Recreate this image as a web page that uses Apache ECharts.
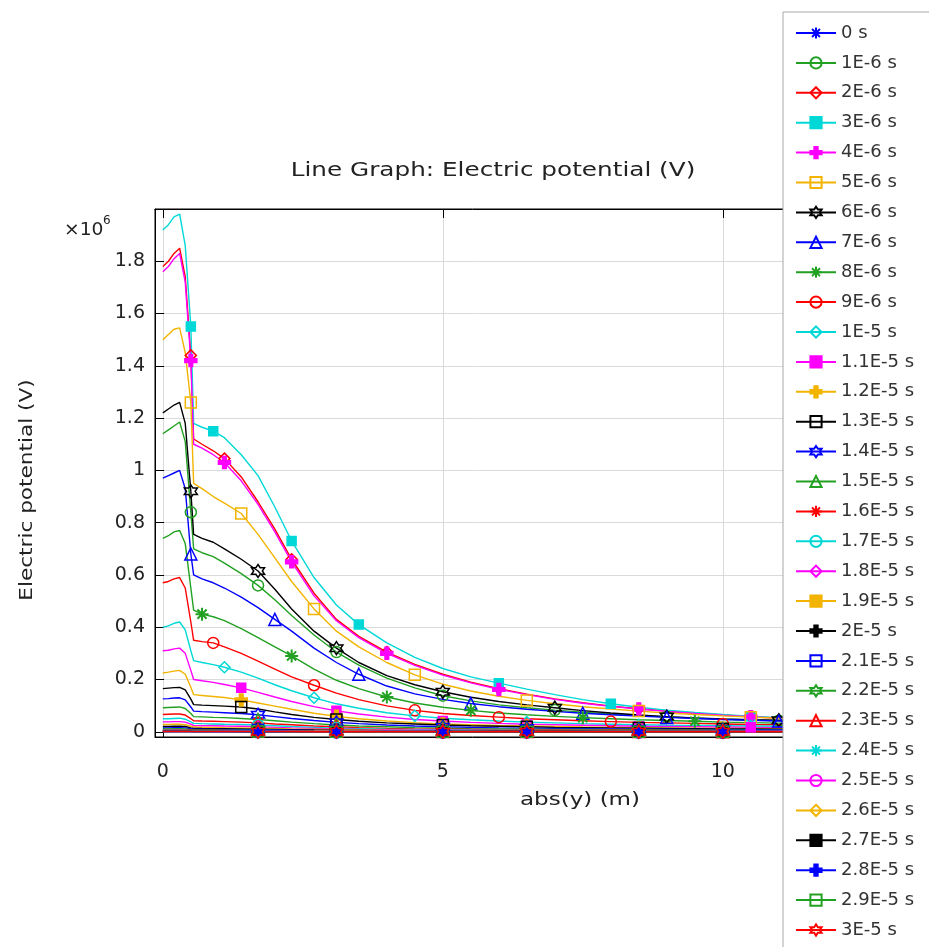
<!DOCTYPE html>
<html><head><meta charset="utf-8">
<script src="https://cdn.jsdelivr.net/npm/echarts@6/dist/echarts.min.js"></script>
<style>html,body{margin:0;padding:0;background:#fff}#c{width:929px;height:947px}</style>
</head><body><div id="c"></div>
<script>
// abs(y) sample positions (m)
const xGrid = [0, 0.1, 0.2, 0.3, 0.4, 0.5, 0.55, 0.7, 0.9,
  1.1, 1.4, 1.7, 2.0, 2.3, 2.7, 3.1, 3.5,
  4.0, 4.5, 5.0, 5.5, 6.0, 6.5, 7.0, 7.5,
  8.0, 8.5, 9.0, 9.5, 10.0, 10.5, 11.0, 11.2];

const timeLabels = ['0 s','1E-6 s','2E-6 s','3E-6 s','4E-6 s','5E-6 s','6E-6 s','7E-6 s','8E-6 s','9E-6 s',
  '1E-5 s','1.1E-5 s','1.2E-5 s','1.3E-5 s','1.4E-5 s','1.5E-5 s','1.6E-5 s','1.7E-5 s','1.8E-5 s','1.9E-5 s',
  '2E-5 s','2.1E-5 s','2.2E-5 s','2.3E-5 s','2.4E-5 s','2.5E-5 s','2.6E-5 s','2.7E-5 s','2.8E-5 s','2.9E-5 s','3E-5 s'];

// Electric potential values, in units of 1e6 V
const s0 = [0,0,0,0,0,0,0,0,0, 0,0,0,0,0,0,0,0, 0,0,0,0,0,0,0,0, 0,0,0,0,0,0,0,0];
const s1 = [1.14,1.155,1.17,1.185,1.11,0.84,0.70,0.685,0.67, 0.645,0.605,0.56,0.505,0.445,0.37,0.305,0.255, 0.205,0.168,0.138,0.118,0.103,0.092,0.083,0.075, 0.068,0.062,0.057,0.052,0.048,0.045,0.042,0.041];
const s2 = [1.78,1.80,1.83,1.85,1.74,1.44,1.12,1.10,1.075, 1.045,0.975,0.88,0.775,0.66,0.53,0.43,0.365, 0.305,0.258,0.22,0.19,0.165,0.144,0.126,0.111, 0.098,0.088,0.079,0.071,0.064,0.058,0.053,0.051];
const s3 = [1.92,1.94,1.97,1.98,1.86,1.55,1.18,1.165,1.15, 1.125,1.06,0.98,0.86,0.73,0.59,0.485,0.41, 0.34,0.285,0.242,0.21,0.186,0.163,0.142,0.123, 0.107,0.094,0.083,0.074,0.066,0.059,0.054,0.052];
const s4 = [1.76,1.78,1.81,1.83,1.72,1.42,1.10,1.085,1.06, 1.03,0.96,0.87,0.765,0.65,0.52,0.425,0.36, 0.30,0.254,0.217,0.187,0.162,0.142,0.124,0.109, 0.097,0.087,0.078,0.07,0.063,0.057,0.052,0.05];
const s5 = [1.50,1.52,1.54,1.545,1.45,1.26,0.95,0.93,0.90, 0.875,0.835,0.755,0.665,0.575,0.47,0.385,0.325, 0.265,0.218,0.182,0.156,0.136,0.12,0.107,0.096, 0.087,0.079,0.072,0.066,0.061,0.056,0.052,0.05];
const s6 = [1.22,1.235,1.25,1.26,1.18,0.92,0.755,0.74,0.725, 0.70,0.66,0.615,0.545,0.47,0.385,0.32,0.265, 0.215,0.18,0.153,0.132,0.116,0.103,0.092,0.081, 0.072,0.064,0.058,0.053,0.049,0.046,0.044,0.043];
const s7 = [0.97,0.98,0.99,1.0,0.93,0.68,0.60,0.585,0.57, 0.55,0.515,0.475,0.43,0.385,0.32,0.265,0.22, 0.175,0.145,0.124,0.108,0.096,0.086,0.078,0.071, 0.065,0.06,0.055,0.051,0.047,0.044,0.041,0.04];
const s8 = [0.74,0.75,0.765,0.77,0.72,0.55,0.465,0.45,0.44, 0.425,0.395,0.36,0.325,0.29,0.24,0.197,0.165, 0.133,0.11,0.094,0.082,0.072,0.065,0.059,0.054, 0.05,0.046,0.043,0.04,0.037,0.035,0.033,0.032];
const s9 = [0.57,0.575,0.585,0.59,0.55,0.42,0.35,0.345,0.34, 0.325,0.30,0.27,0.24,0.21,0.178,0.148,0.123, 0.099,0.082,0.07,0.062,0.056,0.05,0.046,0.042, 0.039,0.036,0.034,0.032,0.03,0.028,0.027,0.026];
const s10 = [0.40,0.405,0.415,0.42,0.39,0.31,0.272,0.265,0.257, 0.247,0.228,0.205,0.18,0.157,0.13,0.107,0.09, 0.073,0.061,0.052,0.046,0.041,0.037,0.034,0.031, 0.029,0.027,0.025,0.024,0.023,0.022,0.021,0.02];
const s11 = [0.31,0.312,0.317,0.32,0.30,0.235,0.20,0.195,0.189, 0.181,0.168,0.151,0.133,0.116,0.096,0.08,0.068, 0.056,0.047,0.041,0.036,0.032,0.029,0.027,0.025, 0.023,0.021,0.02,0.019,0.018,0.017,0.016,0.016];
const s12 = [0.225,0.228,0.232,0.235,0.22,0.17,0.142,0.139,0.135, 0.131,0.122,0.11,0.098,0.086,0.071,0.059,0.05, 0.041,0.035,0.03,0.027,0.024,0.022,0.02,0.018, 0.017,0.016,0.015,0.014,0.013,0.013,0.012,0.012];
const s13 = [0.165,0.167,0.169,0.17,0.16,0.125,0.104,0.102,0.10, 0.098,0.095,0.087,0.076,0.066,0.055,0.047,0.04, 0.034,0.03,0.026,0.023,0.021,0.019,0.017,0.016, 0.015,0.014,0.013,0.012,0.011,0.011,0.01,0.01];
const s14 = [0.126,0.127,0.129,0.13,0.122,0.095,0.079,0.077,0.075, 0.073,0.07,0.065,0.058,0.051,0.043,0.036,0.031, 0.026,0.022,0.019,0.017,0.015,0.014,0.013,0.012, 0.011,0.01,0.0095,0.009,0.0085,0.008,0.0075,0.0075];
const s15 = [0.092,0.093,0.094,0.095,0.089,0.07,0.058,0.057,0.055, 0.054,0.051,0.047,0.042,0.037,0.031,0.026,0.022, 0.019,0.016,0.014,0.012,0.011,0.01,0.0093,0.0086, 0.008,0.0075,0.007,0.0066,0.0062,0.0058,0.0055,0.0054];
const s16 = [0.066,0.067,0.068,0.068,0.064,0.05,0.042,0.041,0.04, 0.039,0.037,0.034,0.03,0.027,0.022,0.019,0.016, 0.013,0.011,0.01,0.0088,0.0079,0.0072,0.0066,0.0061, 0.0057,0.0053,0.005,0.0047,0.0044,0.0042,0.004,0.0039];
const s17 = [0.05,0.05,0.051,0.052,0.048,0.038,0.032,0.031,0.03, 0.029,0.028,0.026,0.023,0.02,0.017,0.014,0.012, 0.01,0.0085,0.0074,0.0066,0.006,0.0054,0.005,0.0046, 0.0043,0.004,0.0038,0.0035,0.0033,0.0032,0.003,0.003];
const s18 = [0.038,0.038,0.039,0.039,0.037,0.029,0.024,0.023,0.023, 0.022,0.021,0.019,0.017,0.015,0.013,0.011,0.0092, 0.0075,0.0064,0.0056,0.005,0.0045,0.0041,0.0038,0.0035, 0.0033,0.003,0.0028,0.0027,0.0025,0.0024,0.0023,0.0022];
const s19 = [0.028,0.028,0.029,0.029,0.027,0.021,0.018,0.017,0.017, 0.016,0.015,0.014,0.013,0.011,0.0095,0.008,0.0068, 0.0055,0.0047,0.0041,0.0037,0.0033,0.003,0.0028,0.0026, 0.0024,0.0022,0.0021,0.002,0.0019,0.0018,0.0017,0.0016];
const s20 = [0.02,0.02,0.021,0.021,0.02,0.015,0.013,0.0125,0.012, 0.0118,0.011,0.01,0.009,0.008,0.0068,0.0057,0.0048, 0.004,0.0034,0.003,0.0026,0.0024,0.0022,0.002,0.0018, 0.0017,0.0016,0.0015,0.0014,0.0013,0.0013,0.0012,0.0012];
const s21 = [0.015,0.015,0.0155,0.0158,0.0148,0.0115,0.0096,0.0094,0.0091, 0.0088,0.0083,0.0076,0.0068,0.006,0.0051,0.0043,0.0036, 0.003,0.0025,0.0022,0.002,0.0018,0.0016,0.0015,0.0014, 0.0013,0.0012,0.0011,0.0011,0.001,0.001,0.0009,0.0009];
const s22 = [0.011,0.011,0.0113,0.0115,0.0108,0.0084,0.007,0.0068,0.0066, 0.0064,0.006,0.0055,0.005,0.0044,0.0037,0.0031,0.0026, 0.0022,0.0019,0.0016,0.0014,0.0013,0.0012,0.0011,0.001, 0.0009,0.0009,0.0008,0.0008,0.0007,0.0007,0.0007,0.0006];
const s23 = [0.008,0.008,0.0082,0.0083,0.0078,0.006,0.005,0.0049,0.0048, 0.0046,0.0043,0.004,0.0036,0.0032,0.0027,0.0022,0.0019, 0.0016,0.0013,0.0012,0.001,0.0009,0.0008,0.0008,0.0007, 0.0007,0.0006,0.0006,0.0006,0.0005,0.0005,0.0005,0.0005];
const s24 = [0.006,0.006,0.0061,0.0062,0.0058,0.0045,0.0038,0.0037,0.0036, 0.0035,0.0032,0.003,0.0027,0.0024,0.002,0.0017,0.0014, 0.0012,0.001,0.0009,0.0008,0.0007,0.0006,0.0006,0.0005, 0.0005,0.0005,0.0004,0.0004,0.0004,0.0004,0.0004,0.0004];
const s25 = [0.0045,0.0045,0.0046,0.0046,0.0043,0.0034,0.0028,0.0028,0.0027, 0.0026,0.0024,0.0022,0.002,0.0018,0.0015,0.0013,0.0011, 0.0009,0.0008,0.0007,0.0006,0.0005,0.0005,0.0004,0.0004, 0.0004,0.0003,0.0003,0.0003,0.0003,0.0003,0.0003,0.0003];
const s26 = [0.0033,0.0033,0.0034,0.0034,0.0032,0.0025,0.0021,0.002,0.002, 0.0019,0.0018,0.0016,0.0015,0.0013,0.0011,0.0009,0.0008, 0.0007,0.0006,0.0005,0.0004,0.0004,0.0004,0.0003,0.0003, 0.0003,0.0003,0.0002,0.0002,0.0002,0.0002,0.0002,0.0002];
const s27 = [0.0024,0.0024,0.0025,0.0025,0.0023,0.0018,0.0015,0.0015,0.0014, 0.0014,0.0013,0.0012,0.0011,0.001,0.0008,0.0007,0.0006, 0.0005,0.0004,0.0004,0.0003,0.0003,0.0003,0.0002,0.0002, 0.0002,0.0002,0.0002,0.0002,0.0001,0.0001,0.0001,0.0001];
const s28 = [0.0018,0.0018,0.0018,0.0019,0.0017,0.0014,0.0011,0.0011,0.0011, 0.001,0.001,0.0009,0.0008,0.0007,0.0006,0.0005,0.0004, 0.0004,0.0003,0.0003,0.0002,0.0002,0.0002,0.0002,0.0002, 0.0001,0.0001,0.0001,0.0001,0.0001,0.0001,0.0001,0.0001];
const s29 = [0.0013,0.0013,0.0013,0.0014,0.0013,0.001,0.0008,0.0008,0.0008, 0.0007,0.0007,0.0006,0.0006,0.0005,0.0004,0.0004,0.0003, 0.0003,0.0002,0.0002,0.0002,0.0002,0.0001,0.0001,0.0001, 0.0001,0.0001,0.0001,0.0001,0.0001,0.0001,0.0001,0.0001];
const s30 = [0.001,0.001,0.001,0.001,0.001,0.0007,0.0006,0.0006,0.0006, 0.0005,0.0005,0.0005,0.0004,0.0004,0.0003,0.0003,0.0002, 0.0002,0.0002,0.0002,0.0001,0.0001,0.0001,0.0001,0.0001, 0.0001,0.0001,0.0001,0.0001,0.0001,0.0001,0.0001,0.0001];

const seriesValues = [s0,s1,s2,s3,s4,s5,s6,s7,s8,s9,s10,s11,s12,s13,s14,s15,s16,s17,s18,s19,s20,s21,s22,s23,s24,s25,s26,s27,s28,s29,s30];

// indices into xGrid where a marker is drawn
const mFlat = [11,15,19,22,26,29];
const m1 = [5,11,15,19,23,27,31];
const m2 = [5,9,13,17,21,26,30];
const m3 = [5,8,13,16,21,25,30];
const m4 = [5,9,13,17,21,26,30];
const m5 = [5,10,14,18,22,26,30];
const m6 = [5,11,15,19,23,27,31];
const m7 = [5,12,16,20,24,27,31];
const m8 = [7,13,17,20,24,28];
const m9 = [8,14,18,21,25,29];
const m10 = [9,14,18,22,26,30];
const m11 = [10,15,19,22,26,30];
const m12 = [10,15,19,22,26,29];
const m13 = [10,15,19,22,26,29];
const markerIndices = [mFlat,m1,m2,m3,m4,m5,m6,m7,m8,m9,m10,m11,m12,m13,
  mFlat,mFlat,mFlat,mFlat,mFlat,mFlat,mFlat,mFlat,mFlat,mFlat,mFlat,mFlat,mFlat,mFlat,mFlat,mFlat,mFlat];

const yTicksShown = [0,0.2,0.4,0.6,0.8,1,1.2,1.4,1.6,1.8];
const xTicksShown = [0,5,10];

// styles
const palette = ['#0000ff','#22a022','#ff0000','#00d8d8','#ff00ff','#f2b400','#000000'];
const ASTERISK = 'path://M0,-10L0,10M-10,0L10,0M-7.07,-7.07L7.07,7.07M-7.07,7.07L7.07,-7.07';
const STAR = 'path://M0,-10L2.885,-5L8.66,-5L5.77,0L8.66,5L2.885,5L0,10L-2.885,5L-8.66,5L-5.77,0L-8.66,-5L-2.885,-5Z';
const PLUS = 'path://M-3,-10L3,-10L3,-3L10,-3L10,3L3,3L3,10L-3,10L-3,3L-10,3L-10,-3L-3,-3Z';
const symbolCycle = [ASTERISK,'circle','diamond','rect',PLUS,'rect',STAR,'triangle'];
const fillCycle   = ['line','open','open','fill','fill','open','open','open'];
const sizeCycle   = [13,11,11,9,12,11,13,12];

const series = seriesValues.map((vals, k) => {
  const color = palette[k % 7];
  const si = k % 8;
  const marks = markerIndices[k];
  const data = xGrid.map((x, i) => marks.indexOf(i) >= 0 ? {value:[x, vals[i]]} : {value:[x, vals[i]], symbol:'none'});
  const f = fillCycle[si];
  return {
    type: 'line', name: timeLabels[k], data: data,
    symbol: symbolCycle[si], symbolSize: sizeCycle[si],
    showSymbol: true, showAllSymbol: true,
    lineStyle: {color: color, width: 1.4},
    itemStyle: {color: f === 'fill' ? color : 'rgba(255,255,255,0)', borderColor: color, borderWidth: f === 'line' ? 2 : 1.5},
    emphasis: {disabled: true}, animation: false, z: 2
  };
});

const FONT = '"DejaVu Sans", Verdana, sans-serif';
const chart = echarts.init(document.getElementById('c'));
chart.setOption({
  backgroundColor: '#fff',
  animation: false,
  grid: {left: 155, top: 209, right: 139, bottom: 210, show: true, borderColor: '#000', borderWidth: 1, backgroundColor: '#fff', containLabel: false},
  xAxis: [{
    type: 'value', min: -0.14, max: 11.2, minInterval: 5, maxInterval: 5,
    axisLine: {show: true, onZero: false, lineStyle: {color: '#000', width: 1}},
    axisTick: {show: true, inside: true, length: 9, lineStyle: {color: '#000'}},
    axisLabel: {margin: 26, fontSize: 19, color: '#222', fontFamily: FONT,
      formatter: v => { const t = xTicksShown.find(a => Math.abs(a - v) < 1e-6); return t === undefined ? '' : String(t); }},
    splitLine: {show: true, lineStyle: {color: '#dadada', width: 1}}
  }, {
    type: 'value', position: 'top', min: -0.14, max: 11.2, minInterval: 5, maxInterval: 5,
    axisLine: {show: true, onZero: false, lineStyle: {color: '#000', width: 1}},
    axisTick: {show: true, inside: true, length: 9, lineStyle: {color: '#000'}},
    axisLabel: {show: false}, splitLine: {show: false}
  }],
  yAxis: {
    type: 'value', min: -0.02, max: 2.0, minInterval: 0.2, maxInterval: 0.2,
    axisLine: {show: true, onZero: false, lineStyle: {color: '#000', width: 1}},
    axisTick: {show: true, inside: true, length: 9, lineStyle: {color: '#000'}},
    axisLabel: {margin: 10, fontSize: 19, color: '#222', fontFamily: FONT,
      formatter: v => { const t = yTicksShown.find(a => Math.abs(a - v) < 1e-6); return t === undefined ? '' : String(t); }},
    splitLine: {show: true, lineStyle: {color: '#dadada', width: 1}}
  },
  legend: {
    orient: 'vertical', left: 783, top: 12, height: 980,
    padding: [12, 60, 40, 12], itemWidth: 40, itemHeight: 14, itemGap: 11.9,
    backgroundColor: '#fff', borderColor: '#a8a8a8', borderWidth: 1,
    selectedMode: false, lineStyle: {width: 2},
    textStyle: {fontSize: 18, color: '#333', fontFamily: FONT},
    data: timeLabels
  },
  graphic: [
    {type: 'text', x: 493, y: 171, scaleX: 1.3, style: {text: 'Line Graph: Electric potential (V)', fill: '#222', font: '19px ' + FONT, align: 'center', verticalAlign: 'middle'}},
    {type: 'text', x: 27, y: 490, rotation: Math.PI / 2, scaleX: 1.2, style: {text: 'Electric potential (V)', fill: '#222', font: '18px ' + FONT, align: 'center', verticalAlign: 'middle'}},
    {type: 'text', x: 580, y: 800, scaleX: 1.28, style: {text: 'abs(y) (m)', fill: '#222', font: '18px ' + FONT, align: 'center', verticalAlign: 'middle'}},
    {type: 'text', x: 64, y: 231, scaleX: 1.1, style: {text: '×10', fill: '#222', font: '17px ' + FONT, align: 'left', verticalAlign: 'middle'}},
    {type: 'text', x: 103, y: 221, style: {text: '6', fill: '#222', font: '12px ' + FONT, align: 'left', verticalAlign: 'middle'}}
  ],
  series: series
});
</script>
</body></html>
